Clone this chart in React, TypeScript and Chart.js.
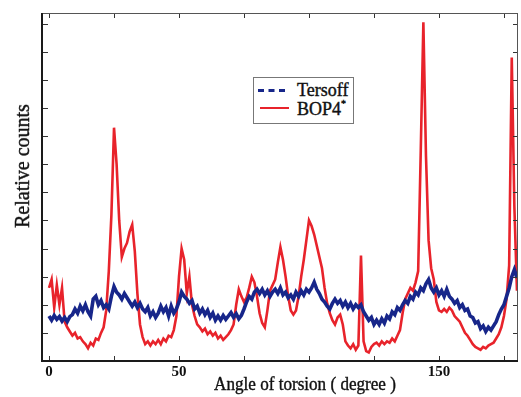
import { useEffect, useRef } from "react";
import { Chart, registerables } from "chart.js";

Chart.register(...registerables);

const angles = [
  0, 1, 2, 3, 4, 5, 6, 7, 8, 9, 10, 11, 12, 13, 14, 15, 16, 17, 18, 19,
  20, 21, 22, 23, 24, 25, 26, 27, 28, 29, 30, 31, 32, 33, 34, 35, 36, 37, 38, 39,
  40, 41, 42, 43, 44, 45, 46, 47, 48, 49, 50, 51, 52, 53, 54, 55, 56, 57, 58, 59,
  60, 61, 62, 63, 64, 65, 66, 67, 68, 69, 70, 71, 72, 73, 74, 75, 76, 77, 78, 79,
  80, 81, 82, 83, 84, 85, 86, 87, 88, 89, 90, 91, 92, 93, 94, 95, 96, 97, 98, 99,
  100, 101, 102, 103, 104, 105, 106, 107, 108, 109, 110, 111, 112, 113, 114, 115, 116, 117, 118, 119,
  120, 121, 122, 123, 124, 125, 126, 127, 128, 129, 130, 131, 132, 133, 134, 135, 136, 137, 138, 139,
  140, 141, 142, 143, 144, 145, 146, 147, 148, 149, 150, 151, 152, 153, 154, 155, 156, 157, 158, 159,
  160, 161, 162, 163, 164, 165, 166, 167, 168, 169, 170, 171, 172, 173, 174, 175, 176, 177, 178, 179,
  180,
];

const tersoff = [
  1.6, 1.45, 1.62, 1.48, 1.58, 1.42, 1.55, 1.4, 1.58, 1.65,
  1.85, 1.7, 1.95, 1.78, 2.0, 1.75, 1.6, 2.2, 2.3, 2.0,
  2.15, 1.9, 2.0, 1.85, 2.3, 2.65, 2.45, 2.35, 2.2, 2.4,
  2.25, 2.1, 1.95, 2.1, 1.9, 2.05, 1.85, 1.75, 1.9, 1.6,
  1.75, 1.55, 1.7, 1.95, 1.75, 1.9, 1.6, 1.95, 1.7, 1.85,
  2.1, 2.45, 2.3, 2.2, 2.05, 2.15, 1.85, 1.95, 1.7, 1.85,
  1.65, 1.8, 1.55, 1.7, 1.45, 1.6, 1.45, 1.62, 1.48, 1.6,
  1.72, 1.55, 1.68, 1.5, 1.62, 1.85, 2.1, 2.3, 2.2, 2.45,
  2.55, 2.4, 2.55, 2.35, 2.5, 2.3, 2.45, 2.55, 2.4, 2.6,
  2.35, 2.45, 2.25, 2.35, 2.2, 2.45, 2.3, 2.5, 2.35, 2.55,
  2.45, 2.6, 2.8, 2.55, 2.4, 2.2, 2.1, 1.95, 1.85, 2.05,
  2.2, 2.05, 2.15, 1.95, 2.1, 1.9, 2.05, 1.85, 2.0, 1.9,
  2.0, 1.75, 1.6, 1.45, 1.55, 1.3, 1.45, 1.3, 1.5, 1.35,
  1.6, 1.5, 1.75, 1.65, 1.9, 1.8, 2.0, 2.15, 2.05, 2.3,
  2.2, 2.45, 2.35, 2.6, 2.5, 2.75, 2.9, 2.6, 2.45, 2.6,
  2.35, 2.5, 2.3, 2.55, 2.3, 2.2, 2.05, 2.15, 1.9, 2.0,
  1.8, 1.85, 1.6, 1.55, 1.35, 1.4, 1.15, 1.25, 1.05, 1.2,
  1.1, 1.25, 1.4, 1.65, 1.85, 2.0, 2.3, 2.6, 3.0, 3.25,
  2.95,
];

const bop4 = [
  2.6, 2.9, 1.9, 2.7, 2.0, 2.6, 1.4, 1.2, 1.05, 0.9,
  1.0, 0.8, 0.85, 0.7, 0.6, 0.45, 0.65, 0.55, 0.8, 0.75,
  1.0, 1.2, 1.8, 3.2, 5.2, 8.3, 7.0, 5.0, 3.7, 4.0,
  4.2, 4.6, 4.85, 3.9, 2.4, 1.3, 0.85, 0.6, 0.7, 0.55,
  0.7, 0.6, 0.75, 0.6, 0.8, 0.7, 0.9, 0.85, 1.1, 1.6,
  3.0, 4.0, 3.6, 2.4, 3.0, 2.0, 1.6, 1.3, 1.2, 1.05,
  1.15, 0.95, 1.05, 0.9, 1.0, 0.8, 0.9, 0.75, 0.85, 0.95,
  1.1, 1.3, 2.0, 2.55, 2.3, 2.1, 2.25, 2.6, 3.0, 2.8,
  2.3, 1.7, 1.35, 1.2, 1.8, 2.5, 2.7, 2.9, 3.5, 4.05,
  3.6, 3.0, 2.3, 1.8, 1.65, 1.8, 2.3, 3.0, 3.6, 4.3,
  5.0, 4.8, 4.5, 4.1, 3.7, 3.3, 2.6, 2.05, 1.7, 1.45,
  1.3, 1.55, 1.65, 1.3, 0.7, 0.55, 0.45, 0.6, 0.4, 0.55,
  3.75, 0.7, 0.35, 0.3, 0.5, 0.6, 0.65, 0.55, 0.7, 0.6,
  0.7, 0.65, 0.8, 0.7, 0.9, 1.1, 1.7, 2.2, 2.4, 2.6,
  2.5, 2.8, 3.2, 7.5, 12.05, 7.3, 4.3, 3.3, 2.9, 2.1,
  1.8, 1.75, 1.85, 1.75, 1.9, 1.8, 1.6, 1.5, 1.4, 1.2,
  1.0, 0.9, 0.75, 0.6, 0.5, 0.45, 0.4, 0.5, 0.45, 0.55,
  0.6, 0.65, 0.8, 0.95, 1.2, 1.6, 2.2, 3.4, 10.8, 5.5,
  2.5,
];

const xTickValues = [0, 25, 50, 75, 100, 125, 150, 175];
const xLabelValues = [0, 50, 150];
const yTickValues = [1, 2, 3, 4, 5, 6, 7, 8, 9, 10, 11, 12];

const framePlugin = {
  id: "frameTicks",
  afterDraw(chart: any) {
    const { ctx, chartArea, scales } = chart;
    const { left, right, top, bottom } = chartArea;
    const xs = scales.x;
    const ys = scales.y;
    ctx.save();
    ctx.strokeStyle = "#333";
    ctx.lineWidth = 1;
    ctx.beginPath();
    for (const v of xTickValues) {
      const px = Math.round(xs.getPixelForValue(v)) + 0.5;
      ctx.moveTo(px, bottom);
      ctx.lineTo(px, bottom - 5);
      ctx.moveTo(px, top);
      ctx.lineTo(px, top + 5);
    }
    for (const v of yTickValues) {
      const py = Math.round(ys.getPixelForValue(v)) + 0.5;
      ctx.moveTo(left, py);
      ctx.lineTo(left + 6, py);
      ctx.moveTo(right, py);
      ctx.lineTo(right - 5, py);
    }
    ctx.stroke();
    ctx.strokeStyle = "#555";
    ctx.lineWidth = 1;
    ctx.beginPath();
    ctx.moveTo(left, top + 0.5);
    ctx.lineTo(right, top + 0.5);
    ctx.moveTo(right - 0.5, top);
    ctx.lineTo(right - 0.5, bottom);
    ctx.stroke();
    ctx.strokeStyle = "#1a1a1a";
    ctx.lineWidth = 2;
    ctx.beginPath();
    ctx.moveTo(left, top);
    ctx.lineTo(left, bottom);
    ctx.lineTo(right, bottom);
    ctx.stroke();
    ctx.restore();
  },
};

export default function App() {
  const canvasRef = useRef<HTMLCanvasElement | null>(null);

  useEffect(() => {
    document.body.style.margin = "0";
    const canvas = canvasRef.current;
    if (!canvas) return;
    const chart = new Chart(canvas, {
      type: "line",
      data: {
        datasets: [
          {
            label: "Tersoff",
            data: angles.map((a, i) => ({ x: a, y: tersoff[i] })),
            borderColor: "#17268a",
            borderWidth: 3.6,
            pointRadius: 0,
            tension: 0,
            fill: false,
          },
          {
            label: "BOP4*",
            data: angles.map((a, i) => ({ x: a, y: bop4[i] })),
            borderColor: "#e8232b",
            borderWidth: 2.6,
            pointRadius: 0,
            tension: 0,
            fill: false,
          },
        ],
      },
      options: {
        animation: false,
        responsive: true,
        maintainAspectRatio: false,
        layout: { padding: { top: 13, right: 3, left: 0, bottom: 0 } },
        plugins: {
          legend: { display: false },
          tooltip: { enabled: false },
        },
        scales: {
          x: {
            type: "linear",
            min: -2.7,
            max: 180.4,
            afterBuildTicks: (s: any) => {
              s.ticks = xTickValues.map((v) => ({ value: v }));
            },
            afterFit: (s: any) => {
              s.height = 36;
            },
            grid: { display: false, drawTicks: false },
            border: { display: false },
            ticks: {
              padding: 2,
              autoSkip: false,
              maxRotation: 0,
              color: "#111",
              font: { family: "Liberation Serif", size: 15, weight: "bold" },
              callback: (v: any) => (xLabelValues.includes(Number(v)) ? String(v) : ""),
            },
          },
          y: {
            type: "linear",
            min: 0,
            max: 12.38,
            afterBuildTicks: (s: any) => {
              s.ticks = yTickValues.map((v) => ({ value: v }));
            },
            afterFit: (s: any) => {
              s.width = 42;
            },
            grid: { display: false, drawTicks: false },
            border: { display: false },
            ticks: { display: false },
          },
        },
      },
      plugins: [framePlugin],
    });
    return () => chart.destroy();
  }, []);

  const serif = '"Liberation Serif", "DejaVu Serif", serif';
  const heavy = { WebkitTextStroke: "0.4px #111" } as any;

  return (
    <div style={{ position: "relative", width: 521, height: 397, background: "#fff" }}>
      <canvas ref={canvasRef} />
      <div
        style={{
          position: "absolute",
          left: 22,
          top: 166,
          transform: "translate(-50%, -50%) rotate(-90deg)",
          fontFamily: serif,
          fontSize: 20,
          color: "#111",
          whiteSpace: "nowrap",
          lineHeight: 1,
          ...heavy,
        }}
      >
        Relative counts
      </div>
      <div
        style={{
          position: "absolute",
          left: 305,
          top: 383,
          transform: "translate(-50%, -50%) scaleX(0.9)",
          fontFamily: serif,
          fontSize: 19,
          color: "#111",
          whiteSpace: "nowrap",
          lineHeight: 1,
          ...heavy,
        }}
      >
        Angle of torsion ( degree )
      </div>
      <div
        style={{
          position: "absolute",
          left: 253,
          top: 77,
          width: 101,
          height: 47,
          boxSizing: "border-box",
          border: "1px solid #777",
          background: "#fff",
          fontFamily: serif,
          fontSize: 18,
          color: "#111",
        }}
      >
        <div style={{ position: "absolute", left: 4, top: 11, width: 27, borderTop: "3px dashed #17268a" }} />
        <div style={{ position: "absolute", left: 6, top: 29, width: 29, borderTop: "2px solid #e8232b" }} />
        <div style={{ position: "absolute", left: 43, top: 2, lineHeight: "20px", whiteSpace: "nowrap", ...heavy }}>Tersoff</div>
        <div style={{ position: "absolute", left: 43, top: 21, lineHeight: "20px", whiteSpace: "nowrap", ...heavy }}>
          BOP4<sup style={{ fontSize: 10, verticalAlign: "top", lineHeight: 1 }}>*</sup>
        </div>
      </div>
    </div>
  );
}
